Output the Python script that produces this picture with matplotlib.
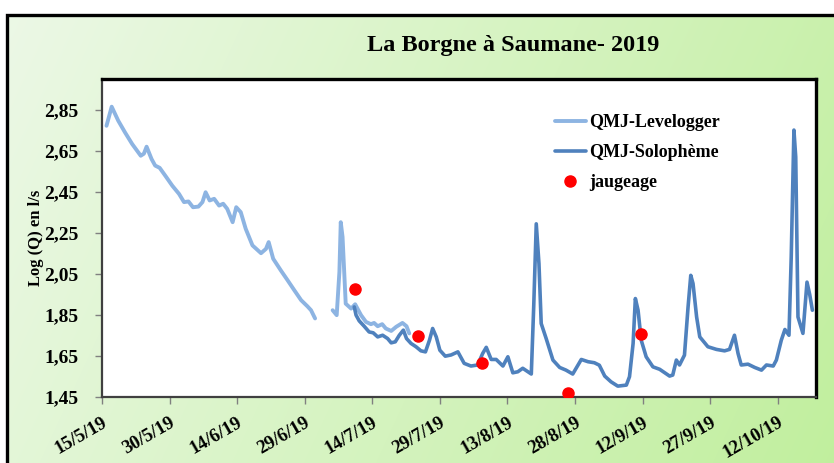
import numpy as np
import matplotlib
matplotlib.use("Agg")
import matplotlib.pyplot as plt
from datetime import datetime, timedelta

plt.rcParams['font.family'] = ['Liberation Serif', 'DejaVu Serif']
plt.rcParams['font.weight'] = 'bold'
plt.rcParams['axes.labelweight'] = 'bold'

start = datetime(2019, 5, 15)

# QMJ Levelogger (days since 15/5/19, log Q)
lev1_d = [1.0, 2.15, 3.6, 5.1, 6.7, 8.6, 9.3, 9.9, 11.0, 11.8, 12.8, 14.2, 15.6, 17.1, 18.2,
          19.2, 20.2, 21.4, 22.3, 23.0, 23.9, 24.9, 26.0, 26.9, 27.8, 29.0, 29.8, 30.8, 31.9,
          33.4, 35.3, 36.4, 37.0, 38.0, 39.7, 41.2, 42.7, 44.2, 45.6, 46.4, 47.3]
lev1_q = [2.772, 2.865, 2.797, 2.740, 2.683, 2.626, 2.636, 2.670, 2.610, 2.578, 2.567, 2.524,
          2.480, 2.440, 2.400, 2.403, 2.375, 2.378, 2.400, 2.448, 2.408, 2.416, 2.383, 2.392,
          2.367, 2.302, 2.375, 2.351, 2.270, 2.189, 2.151, 2.172, 2.205, 2.124, 2.067, 2.019,
          1.970, 1.922, 1.892, 1.873, 1.833]
lev2_d = [51.2, 52.1, 52.7, 53.0, 53.4, 54.1, 55.3, 56.2, 57.5, 58.6, 59.7, 60.4, 61.2, 62.2,
          63.0, 64.2, 65.3, 66.7, 67.6, 68.2]
lev2_q = [1.873, 1.849, 2.06, 2.302, 2.23, 1.905, 1.881, 1.902, 1.849, 1.816, 1.805, 1.811,
          1.795, 1.805, 1.784, 1.772, 1.792, 1.811, 1.795, 1.760]

# QMJ Solophème
sol_d = [56.0, 56.4, 57.1, 58.2, 59.3, 60.2, 61.2, 62.3, 63.4, 64.2, 65.1, 66.0, 66.9, 67.6,
         68.6, 69.7, 70.8, 71.8, 72.7, 73.4, 74.2, 75.0, 76.2, 77.5, 79.0, 80.4, 81.9, 83.4,
         84.5, 85.3, 86.4, 87.5, 89.0, 90.1, 91.2, 92.3, 93.4, 95.3, 95.85, 96.4, 97.0, 97.5,
         98.6, 100.1, 101.6, 103.0, 104.5, 106.4, 107.9, 109.3, 110.4, 111.6, 113.0, 114.5,
         116.4, 117.1, 117.9, 118.4, 119.0, 119.7, 120.8, 122.3, 123.8, 126.0, 126.7, 127.5,
         128.2, 129.3, 130.1, 130.7, 131.2, 132.0, 132.7, 134.5, 136.4, 138.2, 139.3, 140.4,
         141.2, 141.9, 143.4, 144.9, 146.4, 147.5, 149.0, 149.7, 150.8, 151.6, 152.5, 153.0,
         153.6, 154.0, 154.5, 155.6, 156.5, 157.1, 157.7]
sol_q = [1.889, 1.849, 1.821, 1.795, 1.767, 1.763, 1.743, 1.751, 1.735, 1.714, 1.719, 1.751,
         1.776, 1.735, 1.711, 1.695, 1.675, 1.670, 1.727, 1.784, 1.743, 1.678, 1.649, 1.655,
         1.670, 1.614, 1.601, 1.606, 1.662, 1.692, 1.633, 1.633, 1.601, 1.646, 1.568, 1.573,
         1.590, 1.562, 1.90, 2.294, 2.10, 1.808, 1.735, 1.630, 1.594, 1.581, 1.562, 1.633,
         1.622, 1.617, 1.605, 1.552, 1.524, 1.503, 1.508, 1.549, 1.711, 1.930, 1.873, 1.727,
         1.646, 1.597, 1.585, 1.552, 1.557, 1.630, 1.606, 1.654, 1.889, 2.043, 2.003, 1.840,
         1.743, 1.695, 1.682, 1.675, 1.682, 1.751, 1.662, 1.606, 1.610, 1.594, 1.581, 1.606,
         1.601, 1.630, 1.727, 1.779, 1.751, 2.132, 2.751, 2.62, 1.840, 1.760, 2.010, 1.950,
         1.873]

# jaugeages
jau_d = [56.2, 70.1, 84.4, 103.4, 119.6]
jau_q = [1.975, 1.748, 1.614, 1.471, 1.755]

to_dates = lambda days: [start + timedelta(days=d) for d in days]

W, H = 834, 463
fig = plt.figure(figsize=(W / 100, H / 100), dpi=100)

# background: green gradient inside a black frame
bg = fig.add_axes([0, 0, 1, 1], zorder=-1)
bg.set_xlim(0, W)
bg.set_ylim(H, 0)
bg.axis('off')
gx, gy = np.meshgrid(np.linspace(0, 1, 300), np.linspace(0, 1, 200))
t = np.clip(0.8 * gx + 0.2 * gy, 0, 1)
c0 = np.array([0.925, 0.973, 0.902])
c1 = np.array([0.757, 0.937, 0.620])
img = c0[None, None, :] * (1 - t[..., None]) + c1[None, None, :] * t[..., None]
bg.imshow(img, extent=[7, W, H, 15], aspect='auto', interpolation='bilinear')
bg.plot([7, 7, W], [H, 15, 15], color='black', lw=2.4, solid_joinstyle='miter')
bg.text(513, 45, "La Borgne à Saumane- 2019", ha='center', va='center', fontsize=17.5,
        fontweight='bold')

ax = fig.add_axes([102 / W, 66 / H, 714 / W, 318 / H])
ax.set_facecolor('white')

ax.plot(to_dates(lev1_d), lev1_q, color='#8db4e2', lw=2.8, solid_capstyle='round',
        solid_joinstyle='round', label='QMJ-Levelogger')
ax.plot(to_dates(lev2_d), lev2_q, color='#8db4e2', lw=2.8, solid_capstyle='round',
        solid_joinstyle='round')
ax.plot(to_dates(sol_d), sol_q, color='#4f81bd', lw=2.6, solid_capstyle='round',
        solid_joinstyle='round', label='QMJ-Solophème')
ax.plot(to_dates(jau_d), jau_q, 'o', color='#ff0000', ms=8, ls='none', label='jaugeage',
        zorder=5)

ax.set_ylim(1.45, 3.0)
yt = np.arange(1.45, 2.86, 0.2)
ax.set_yticks(yt)
ax.set_yticklabels([f"{v:.2f}".replace('.', ',') for v in yt], fontsize=14)
ax.set_ylabel("Log (Q) en l/s", fontsize=12, labelpad=0)

ax.set_xlim(start, start + timedelta(days=158.5))
xt = [start + timedelta(days=15 * i) for i in range(11)]
ax.set_xticks(xt)
ax.set_xticklabels([f"{d.day}/{d.month}/{d.year % 100}" for d in xt], fontsize=13.5,
                   rotation=30, ha='right', va='top', rotation_mode='anchor')
ax.tick_params(axis='both', direction='out', length=5, color='#808080', width=1)
ax.tick_params(axis='x', pad=7)
ax.tick_params(axis='y', pad=12)

for s in ['top', 'right']:
    ax.spines[s].set_linewidth(2.4)
    ax.spines[s].set_color('black')
for s in ['left', 'bottom']:
    ax.spines[s].set_linewidth(1.6)
    ax.spines[s].set_color('#404040')

ax.legend(loc='upper left', bbox_to_anchor=(555 / W, 1 - 114 / H),
          bbox_transform=fig.transFigure, frameon=False, fontsize=13,
          handlelength=1.7, handletextpad=0.2, labelspacing=0.72, borderpad=0,
          borderaxespad=0)

fig.savefig("out.png", dpi=100)
